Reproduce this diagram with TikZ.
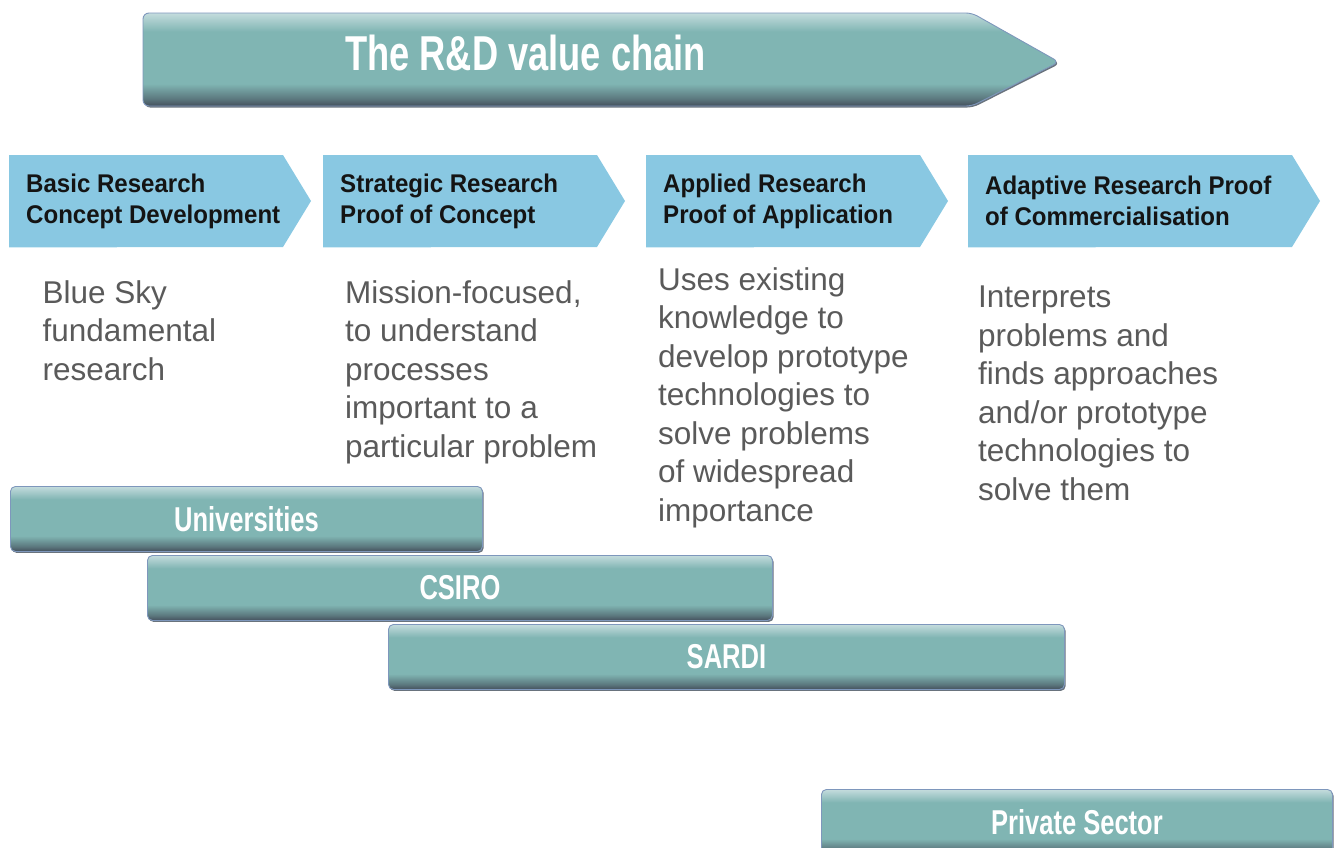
\documentclass[tikz,border=0pt]{standalone}
\usepackage{fontspec}
\setmainfont{Liberation Sans}
\newfontfamily\headfont{Liberation Sans}[FakeStretch=0.94]
\newfontfamily\condfont{Liberation Sans}[FakeStretch=0.74]
\usetikzlibrary{positioning,calc,backgrounds,shadows}

\definecolor{phaseblue}{HTML}{89C8E2}
\definecolor{barteal}{HTML}{80B5B3}
\definecolor{barhigh}{HTML}{C4DCDD}
\definecolor{barlow}{HTML}{44505C}
\definecolor{baredge}{HTML}{7E97BC}
\definecolor{desctext}{HTML}{5A5A5A}

\pgfdeclareverticalshading{bevel}{100bp}{%
  color(0bp)=(barlow); color(25bp)=(barlow); color(29bp)=(barlow!60!barteal);
  color(37bp)=(barteal); color(65bp)=(barteal); color(75bp)=(barhigh); color(100bp)=(barhigh)}

\tikzset{
  phase/.style={anchor=north west, minimum height=92pt, inner xsep=17pt, inner ysep=0pt,
    align=left, text=black!92,
    font=\headfont\bfseries\fontsize{25.6}{31}\selectfont},
  desc/.style={anchor=north west, inner sep=0pt, align=left, text=desctext,
    font=\fontsize{31.5}{38.5}\selectfont},
  bevelled/.style={shade, shading=bevel, draw=baredge, line width=0.9pt,
    drop shadow={shadow xshift=1.2pt, shadow yshift=-1.5pt, fill=barlow, opacity=0.8}},
  orgbar/.style={bevelled, anchor=north west, minimum height=65pt, inner sep=0pt,
    rounded corners=5pt, text=white,
    font=\condfont\bfseries\fontsize{34.5}{36}\selectfont}
}

\begin{document}
\begin{tikzpicture}[x=1pt, y=-1pt]

\clip (0,0) rectangle (1338,847);

% value chain arrow
\path[bevelled, rounded corners=6pt]
  (143,13) -- (972,13) -- (1059,62) -- (972,106) -- (143,106) -- cycle;
\node[anchor=base west, inner sep=0pt, text=white,
      font=\condfont\bfseries\fontsize{49}{52}\selectfont] (chain) at (345,70)
      {The R\&D value chain};

% research phases
\node[phase] (basic)     at (9,155)   {Basic Research\\Concept Development};
\node[phase] (strategic) at (323,155) {Strategic Research\\Proof of Concept};
\node[phase] (applied)   at (646,155) {Applied Research\\Proof of Application};
\node[phase] (adaptive)  at (968,155) {Adaptive Research Proof\\of Commercialisation};

\begin{scope}[on background layer]
\foreach \p/\w in {basic/274,strategic/274,applied/274,adaptive/324}
  \fill[phaseblue] (\p.north west) -- ++(\w,0) -- ++(28,46) -- ++(-28,46)
    -- (\p.south west) -- cycle;
\end{scope}

\node[desc] (blueSky)   at (42.5,280) {Blue Sky\\fundamental\\research};
\node[desc] (mission)   at (345,280)  {Mission-focused,\\to understand\\processes\\important to a\\particular problem};
\node[desc] (uses)      at (658,267)  {Uses existing\\knowledge to\\develop prototype\\technologies to\\solve problems\\of widespread\\importance};
\node[desc] (interpret) at (978,286)  {Interprets\\problems and\\finds approaches\\and/or prototype\\technologies to\\solve them};

% providers
\node[orgbar, minimum width=472pt] (unis)    at (10,486)  {Universities};
\node[orgbar, minimum width=625pt] (csiro)   at (147,555) {CSIRO};
\node[orgbar, minimum width=676pt] (sardi)   at (388,624) {SARDI};
\node[orgbar, minimum width=511pt] (private) at (821,789) {Private Sector};

\end{tikzpicture}
\end{document}
